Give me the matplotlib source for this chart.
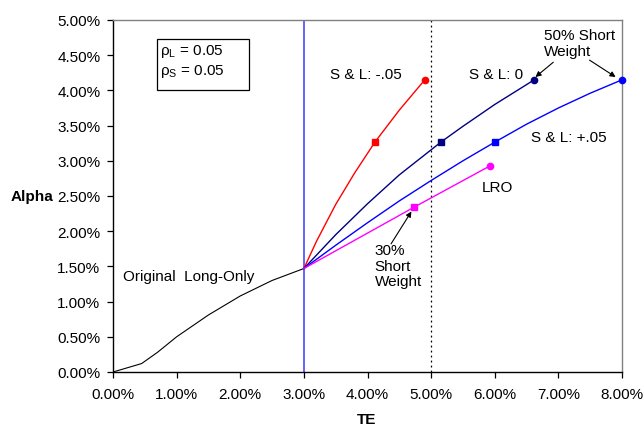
import matplotlib
matplotlib.use('Agg')
import matplotlib.pyplot as plt
from matplotlib.patches import Rectangle
from matplotlib.ticker import FuncFormatter, MultipleLocator

plt.rcParams['font.family'] = ['Liberation Sans', 'DejaVu Sans']
plt.rcParams['mathtext.fontset'] = 'custom'
plt.rcParams['mathtext.rm'] = 'Liberation Sans'
plt.rcParams['font.size'] = 11

# values in percent (TE, Alpha)
long_te = [0.0, 0.45, 0.7, 1.0, 1.5, 2.0, 2.5, 3.0]
long_alpha = [0.0, 0.12, 0.28, 0.50, 0.81, 1.08, 1.30, 1.47]

red_te = [3.0, 3.2, 3.5, 3.8, 4.12, 4.5, 4.9]
red_alpha = [1.47, 1.86, 2.38, 2.83, 3.27, 3.72, 4.15]

navy_te = [3.0, 3.5, 4.0, 4.5, 5.16, 5.5, 6.0, 6.62]
navy_alpha = [1.47, 1.95, 2.39, 2.80, 3.27, 3.49, 3.80, 4.15]

blue_te = [3.0, 3.5, 4.0, 4.5, 5.0, 5.5, 6.01, 6.5, 7.0, 7.5, 8.0]
blue_alpha = [1.47, 1.80, 2.12, 2.43, 2.72, 3.00, 3.27, 3.52, 3.75, 3.96, 4.15]

lro_te = [3.0, 4.73, 5.93]
lro_alpha = [1.47, 2.34, 2.93]

# index of the 30% short weight point in each series
red_mid = 4
navy_mid = 4
blue_mid = 6
lro_mid = 1

fig = plt.figure(figsize=(6.44, 4.27), dpi=100)
ax = fig.add_axes([113 / 644, 54 / 427, 509 / 644, 352 / 427])

ax.axvline(3.0, color='#3a3aff', lw=1.1, zorder=1)
ax.axvline(5.0, color='black', lw=0.9, ls=(0, (1.5, 2.5)), zorder=1)

ax.plot(long_te, long_alpha, color='black', lw=0.8)

series = [
    (red_te, red_alpha, red_mid, '#ff0000'),
    (navy_te, navy_alpha, navy_mid, '#000080'),
    (blue_te, blue_alpha, blue_mid, '#0000ff'),
    (lro_te, lro_alpha, lro_mid, '#ff00ff'),
]
for xs, ys, mid, c in series:
    ax.plot(xs, ys, color=c, lw=1.0, zorder=3)
    ax.plot(xs, ys, color=c, ls='none', marker='s', ms=5, markevery=[mid], zorder=4)
    ax.plot(xs, ys, color=c, ls='none', marker='o', ms=4.5, markevery=[len(xs) - 1],
            zorder=4, clip_on=False)

ax.set_xlim(0, 8)
ax.set_ylim(0, 5)
ax.xaxis.set_major_locator(MultipleLocator(1))
ax.yaxis.set_major_locator(MultipleLocator(0.5))
ax.xaxis.set_major_formatter(FuncFormatter(lambda v, p: '%.2f%%' % v))
ax.yaxis.set_major_formatter(FuncFormatter(lambda v, p: '%.2f%%' % v))
ax.tick_params(direction='out', length=4, width=0.9, labelsize=11, colors='black')
ax.tick_params(axis='x', pad=7)
ax.tick_params(axis='y', pad=5)

for s in ['top', 'right']:
    ax.spines[s].set_color('#808080')
    ax.spines[s].set_linewidth(1.0)
for s in ['left', 'bottom']:
    ax.spines[s].set_color('black')
    ax.spines[s].set_linewidth(1.0)

# parameter box
ax.add_patch(Rectangle((0.69, 4.01), 1.45, 0.72, fill=False, edgecolor='black', lw=0.9))
ax.text(0.74, 4.56, r'ρ$_\mathrm{L}$ = 0.05', ha='left', va='center', fontsize=11)
ax.text(0.74, 4.28, r'ρ$_\mathrm{S}$ = 0.05', ha='left', va='center', fontsize=11)

ax.text(3.41, 4.24, 'S & L: -.05', ha='left', va='center')
ax.text(5.60, 4.24, 'S & L: 0', ha='left', va='center')
ax.text(6.57, 3.34, 'S & L: +.05', ha='left', va='center')
ax.text(5.80, 2.63, 'LRO', ha='left', va='center')
ax.text(0.16, 1.37, 'Original  Long-Only', ha='left', va='center')

ax.text(6.78, 4.88, '50% Short\nWeight', ha='left', va='top', linespacing=1.15)
arrow = dict(arrowstyle='-|>', color='black', lw=0.8, mutation_scale=8, shrinkA=0, shrinkB=0)
ax.annotate('', xy=(6.64, 4.19), xytext=(6.92, 4.40), arrowprops=arrow)
ax.annotate('', xy=(7.90, 4.19), xytext=(7.49, 4.43), arrowprops=arrow)

ax.text(4.11, 1.83, '30%\nShort\nWeight', ha='left', va='top', linespacing=1.15)
ax.annotate('', xy=(4.69, 2.28), xytext=(4.37, 1.82), arrowprops=arrow)

fig.text(32 / 644, 1 - 197 / 427, 'Alpha', ha='center', va='center', fontsize=11, fontweight='bold')
fig.text(367 / 644, 1 - 420 / 427, 'TE', ha='center', va='center', fontsize=11, fontweight='bold')

fig.savefig('out.png', dpi=100)
